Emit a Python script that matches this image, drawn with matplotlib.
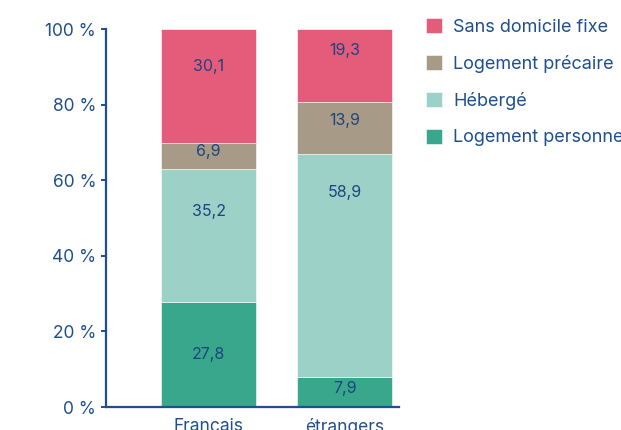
import numpy as np
import matplotlib.pyplot as plt

plt.rcParams['font.family'] = ['Inter', 'DejaVu Sans']

groups = ['Français', 'étrangers']
series = ['Logement personnel', 'Hébergé', 'Logement précaire', 'Sans domicile fixe']
logement_personnel = [27.8, 7.9]
heberge = [35.2, 58.9]
logement_precaire = [6.9, 13.9]
sans_domicile = [30.1, 19.3]

values = [logement_personnel, heberge, logement_precaire, sans_domicile]
colors = ['#38a78c', '#9bd1c6', '#a79b88', '#e45c7a']
# where the value label sits inside each segment (fraction of its height)
label_frac = [[0.50, 0.63], [0.68, 0.83], [0.65, 0.65], [0.67, 0.71]]

blue = '#1f4f8f'
txt = '#1d4480'

fig = plt.figure(figsize=(6.21, 4.30), dpi=100)
ax = fig.add_axes([106 / 621, 23 / 430, 293 / 621, 378 / 430])

x = np.arange(len(groups))
bottom = np.zeros(len(groups))
handles = []
for vals, col, fr in zip(values, colors, label_frac):
    vals = np.array(vals)
    b = ax.bar(x, vals, 0.70, bottom=bottom, color=col, edgecolor='white', linewidth=0.4)
    handles.append(b)
    for xi, v, bo, f in zip(x, vals, bottom, fr):
        ax.text(xi, bo + v * f, f'{v:.1f}'.replace('.', ','), ha='center', va='center',
                fontsize=11.5, color=txt)
    bottom += vals

ax.set_xlim(-0.754, 1.40)
ax.set_ylim(0, 100)
ax.set_yticks([0, 20, 40, 60, 80, 100])
ax.set_yticklabels([f'{t} %' for t in [0, 20, 40, 60, 80, 100]])
ax.set_xticks(x)
ax.set_xticklabels(groups)
ax.tick_params(axis='y', length=3.6, width=1.4, color=blue, labelcolor=blue, labelsize=12.5, pad=3.5)
ax.tick_params(axis='x', length=0, labelcolor=blue, labelsize=12.5, pad=8)
for s in ['top', 'right']:
    ax.spines[s].set_visible(False)
for s in ['left', 'bottom']:
    ax.spines[s].set_color(blue)
    ax.spines[s].set_linewidth(1.6)

leg = fig.legend(handles[::-1], series[::-1], loc='upper left',
                 bbox_to_anchor=(426 / 621, 1 - 18 / 430), frameon=False,
                 fontsize=13, handlelength=0.9, handleheight=0.9,
                 labelspacing=1.05, handletextpad=0.6, borderpad=0, borderaxespad=0)
for t in leg.get_texts():
    t.set_color(blue)

fig.savefig('out.png', dpi=100)
